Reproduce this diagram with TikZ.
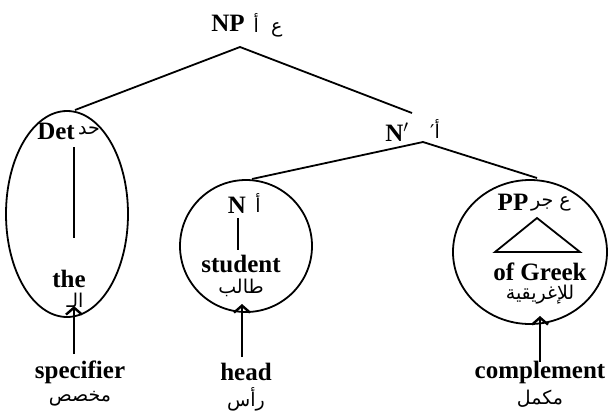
\documentclass[tikz,border=0pt]{standalone}
\usepackage{fontspec}
\setmainfont{Liberation Serif}
\newfontfamily\arabicfont[Script=Arabic]{DejaVu Sans}
\TeXXeTstate=1
\usetikzlibrary{shapes.geometric,arrows.meta}
\begin{document}
\begin{tikzpicture}[x=1pt,y=-1pt,
  lab/.style={font=\fontsize{25}{27}\selectfont\bfseries, inner sep=0pt},
  arab/.style={font=\arabicfont\fontsize{19}{21}\selectfont, inner sep=0pt},
  branch/.style={line width=1.8pt},
  cont/.style={draw, line width=1.8pt, inner sep=0pt},
  uparrow/.style={line width=2.4pt, -{Straight Barb[length=7pt,width=16pt,line width=2.4pt]}}
]
\useasboundingbox (0,0) rectangle (611,416);

% top NP
\node[lab] (np) at (228,23) {NP};
\node[arab] (npar) at (268,25) {\beginR ع\ \ أ\endR};
\coordinate (npA) at (240,47);
\coordinate (detTop) at (75,110);
\coordinate (nbarEnd) at (412,113);
\draw[branch] (detTop) -- (npA) -- (nbarEnd);

% N' level
\node[lab] (nbar) at (397,132) {N$'$};
\node[arab] (nbarar) at (435,129) {\beginR أ′\endR};
\coordinate (nbarA) at (423,142);
\coordinate (nTop) at (252,179);
\coordinate (ppTop) at (537,178);
\draw[branch] (nTop) -- (nbarA) -- (ppTop);

% Det ellipse
\node[cont, ellipse, minimum width=122pt, minimum height=206pt] (detE) at (67,214) {};
\node[lab] (det) at (56,131) {Det};
\node[arab] (detar) at (89,131) {\beginR حد\endR};
\coordinate (detL1) at (74,147);
\coordinate (detL2) at (74,238);
\draw[branch] (detL1) -- (detL2);
\node[lab] (the) at (69,279) {the};
\node[arab] (thear) at (75,300) {\beginR الـ\endR};

% N circle
\node[cont, circle, minimum size=132pt] (nC) at (246,246) {};
\node[lab] (n) at (237,205) {N};
\node[arab] (nar) at (258,203) {\beginR أ\endR};
\coordinate (nL1) at (238,218);
\coordinate (nL2) at (238,250);
\draw[branch] (nL1) -- (nL2);
\node[lab] (student) at (241,264) {student};
\node[arab] (studentar) at (241,288) {\beginR طالب\endR};

% PP ellipse
\node[cont, ellipse, minimum width=154pt, minimum height=144pt] (ppE) at (530,252) {};
\node[lab] (pp) at (513,202) {PP};
\node[arab] (ppar) at (551,204) {\beginR ع جر\endR};
\coordinate (tr1) at (537,218);
\coordinate (tr2) at (495,252);
\coordinate (tr3) at (580,252);
\draw[branch] (tr1) -- (tr2) -- (tr3) -- cycle;
\node[lab] (greek) at (540,272) {of Greek};
\node[arab] (greekar) at (540,295) {\beginR للإغريقية\endR};

% bottom labels
\node[lab] (spec) at (80,372) {specifier};
\node[arab] (specar) at (80,399) {\beginR مخصص\endR};
\node[lab] (head) at (246,372) {head};
\node[arab] (headar) at (246,399) {\beginR رأس\endR};
\node[lab] (comp) at (540,372) {complement};
\node[arab] (compar) at (540,399) {\beginR مكمل\endR};

% arrows
\coordinate (tipS) at (74,306);
\coordinate (tipH) at (242,304);
\coordinate (tipC) at (540,316);
\coordinate (botS) at (74,354);
\coordinate (botH) at (242,357);
\coordinate (botC) at (540,362);
\draw[uparrow] (botS) -- (tipS);
\draw[uparrow] (botH) -- (tipH);
\draw[uparrow] (botC) -- (tipC);
\end{tikzpicture}
\end{document}
